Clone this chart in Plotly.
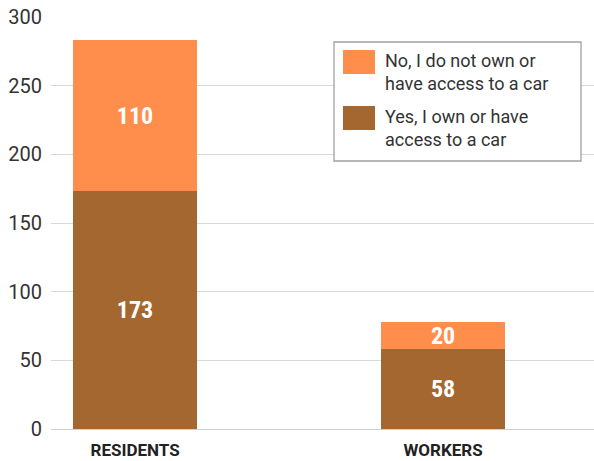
import plotly.graph_objects as go

# Survey responses: car ownership / access
categories = ["RESIDENTS", "WORKERS"]
series_names = ["Yes, I own or have access to a car", "No, I do not own or have access to a car"]
yes_values = [173, 58]
no_values = [110, 20]
y_ticks = [0, 50, 100, 150, 200, 250, 300]

BROWN = "#A56730"
ORANGE = "#FF8D4C"
FONT = "Roboto Condensed, DejaVu Sans Condensed, Roboto, sans-serif"
FONT_WIDE = "Roboto, sans-serif"

fig = go.Figure()
for name, vals, col in [(series_names[0], yes_values, BROWN), (series_names[1], no_values, ORANGE)]:
    fig.add_trace(go.Bar(
        x=categories, y=vals, name=name,
        marker=dict(color=col, line=dict(width=0)),
        width=0.403,
        text=[str(v) for v in vals],
        textposition="inside", insidetextanchor="middle",
        textangle=0, constraintext="none",
        textfont=dict(family=FONT, size=24, color="white", weight="bold"),
        showlegend=False,
    ))

# Legend box drawn with shapes so the swatches can be sized freely
def px_x(p):
    return (p - 51) / 543

def px_y(p):
    return (429 - p) / 412

shapes = [
    dict(type="rect", xref="paper", yref="paper",
         x0=px_x(334), x1=px_x(581), y0=px_y(161), y1=px_y(42),
         line=dict(color="#A0A0A0", width=1.3), fillcolor="white", layer="above"),
]
annotations = []
legend_items = [(series_names[1], ORANGE, 50, 74, 6), (series_names[0], BROWN, 106, 130, 5)]
for name, col, top, bot, split in legend_items:
    shapes.append(dict(type="rect", xref="paper", yref="paper",
                       x0=px_x(343), x1=px_x(375), y0=px_y(bot), y1=px_y(top),
                       line=dict(width=0), fillcolor=col, layer="above"))
    words = name.split(" ")
    label = " ".join(words[:split]) + "<br>" + " ".join(words[split:])
    annotations.append(dict(xref="paper", yref="paper", x=px_x(383), y=px_y(top - 2),
                            xanchor="left", yanchor="top", align="left", showarrow=False,
                            text=label, font=dict(family=FONT_WIDE, size=18, color="#333333")))

fig.update_layout(
    width=594, height=461,
    margin=dict(l=51, r=0, t=17, b=32),
    barmode="stack",
    plot_bgcolor="white", paper_bgcolor="white",
    bargap=0,
    shapes=shapes, annotations=annotations,
    xaxis=dict(range=[-0.273, 1.49], showgrid=False, showline=False, ticks="",
               ticklabelstandoff=9,
               tickfont=dict(family=FONT_WIDE, size=17, color="#222222", weight="bold")),
    yaxis=dict(range=[0, 300], tickvals=y_ticks, gridcolor="#D9D9D9", gridwidth=1,
               zeroline=True, zerolinecolor="#D0D0D0", zerolinewidth=1, showline=False,
               ticks="", ticklabelstandoff=8,
               tickfont=dict(family=FONT_WIDE, size=20, color="#333333")),
)

fig.write_html("out.html")
